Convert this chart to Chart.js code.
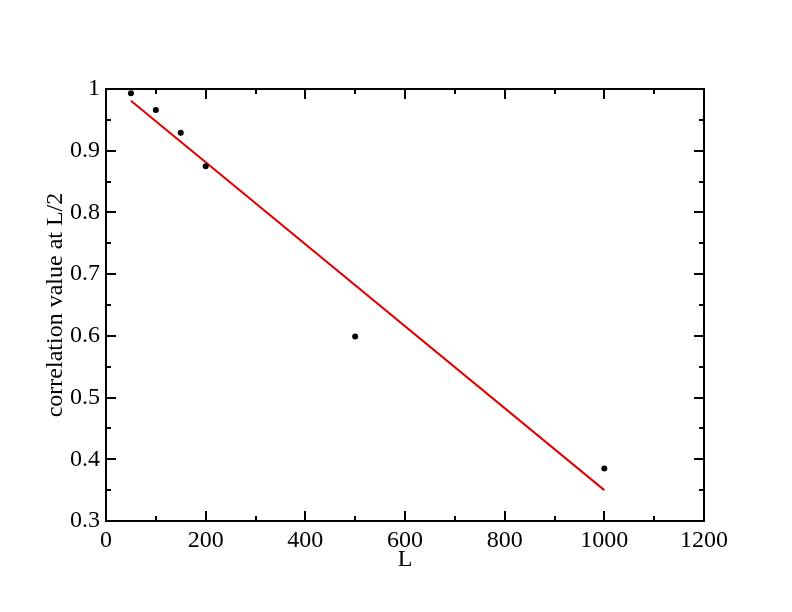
<!DOCTYPE html>
<html>
<head>
<meta charset="utf-8">
<script src="https://cdn.jsdelivr.net/npm/chart.js@4.4.0/dist/chart.umd.min.js"></script>
<style>
  body { margin: 0; background: #fff; }
</style>
</head>
<body>
<canvas id="corrChart" width="792" height="612"></canvas>
<script>
// measured points
var sizesL = [50, 100, 150, 200, 500, 1000];
var corrValues = [0.993, 0.966, 0.929, 0.875, 0.599, 0.385];
// linear fit drawn in red
var fitL = [50, 1000];
var fitValues = [0.981, 0.350];

var xTicks = [0, 200, 400, 600, 800, 1000, 1200];
var yTicks = [0.3, 0.4, 0.5, 0.6, 0.7, 0.8, 0.9, 1];

var serif = '"Liberation Serif", "Times New Roman", serif';

// xmgrace style frame with inward ticks on all four sides
var frameTicks = {
  id: 'frameTicks',
  afterDraw: function(chart) {
    var c = chart.ctx, a = chart.chartArea;
    var xs = chart.scales.x, ys = chart.scales.y;
    c.save();
    c.strokeStyle = '#000';
    c.lineWidth = 2;
    c.strokeRect(a.left, a.top, a.right - a.left, a.bottom - a.top);
    c.beginPath();
    for (var v = 0; v <= 1200; v += 100) {
      var px = Math.round(xs.getPixelForValue(v));
      var len = (v % 200 === 0) ? 10 : 5;
      c.moveTo(px, a.bottom); c.lineTo(px, a.bottom - len);
      c.moveTo(px, a.top); c.lineTo(px, a.top + len);
    }
    for (var i = 0; i <= 14; i++) {
      var val = 0.3 + i * 0.05;
      var py = Math.round(ys.getPixelForValue(val));
      var l2 = (i % 2 === 0) ? 10 : 5;
      c.moveTo(a.left, py); c.lineTo(a.left + l2, py);
      c.moveTo(a.right, py); c.lineTo(a.right - l2, py);
    }
    c.stroke();
    c.restore();
  }
};

var ctx = document.getElementById('corrChart').getContext('2d');
var corrChart = new Chart(ctx, {
  type: 'scatter',
  data: {
    datasets: [
      {
        label: 'data',
        data: sizesL.map(function(x, i) { return {x: x, y: corrValues[i]}; }),
        pointRadius: 3,
        pointBackgroundColor: '#000',
        pointBorderColor: '#000',
        pointBorderWidth: 0,
        showLine: false
      },
      {
        label: 'fit',
        data: fitL.map(function(x, i) { return {x: x, y: fitValues[i]}; }),
        showLine: true,
        borderColor: '#e00000',
        borderWidth: 2,
        pointRadius: 0
      }
    ]
  },
  options: {
    responsive: false,
    animation: false,
    layout: { padding: { top: 89, right: 88, left: 0, bottom: 0 } },
    plugins: {
      legend: { display: false },
      tooltip: { enabled: false }
    },
    scales: {
      x: {
        type: 'linear',
        min: 0,
        max: 1200,
        afterBuildTicks: function(s) { s.ticks = xTicks.map(function(v) { return {value: v}; }); },
        afterFit: function(s) { s.height = 91; },
        grid: { display: false, drawTicks: false },
        border: { display: false },
        ticks: {
          color: '#000',
          padding: 5,
          maxRotation: 0,
          font: { family: serif, size: 24 },
          callback: function(v) { return String(v); }
        },
        title: { display: true, text: 'L', color: '#000', padding: { top: 0, bottom: 38 }, font: { family: serif, size: 24 } }
      },
      y: {
        type: 'linear',
        min: 0.3,
        max: 1,
        afterBuildTicks: function(s) { s.ticks = yTicks.map(function(v) { return {value: v}; }); },
        afterFit: function(s) { s.width = 106; },
        grid: { display: false, drawTicks: false },
        border: { display: false },
        ticks: {
          color: '#000',
          padding: 6,
          font: { family: serif, size: 24 },
          callback: function(v) { return String(Math.round(v * 10) / 10); }
        },
        title: { display: true, text: 'correlation value at L/2', color: '#000', padding: { top: 41, bottom: 0 }, font: { family: serif, size: 24 } }
      }
    }
  },
  plugins: [frameTicks]
});
</script>
</body>
</html>
